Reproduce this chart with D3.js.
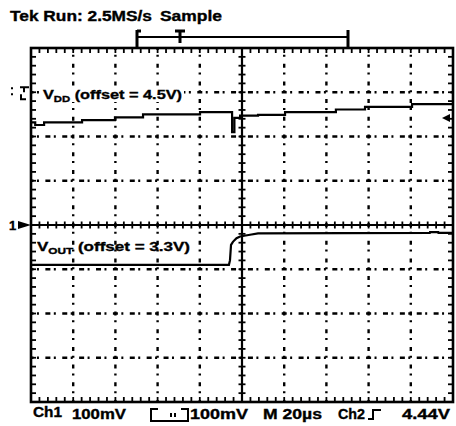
<!DOCTYPE html>
<html><head><meta charset="utf-8">
<script src="https://cdn.jsdelivr.net/npm/d3@7"></script>
<style>
html,body{margin:0;padding:0;background:#fff;}
svg{display:block;}
text{font-family:"Liberation Sans",Arial,sans-serif;font-weight:bold;fill:#000;stroke:#000;stroke-width:0.35;}
</style></head>
<body>
<svg id="c" width="456" height="426"></svg>
<script>
// ---- data ----
const timeRangeUs = [-100, 100];          // 10 div x 20 µs/div
const divRange = [-4, 4];                 // 8 vertical divisions
const xGridUs = [-80, -60, -40, -20, 20, 40, 60, 80];
const yGridDiv = [-3, -2, -1, 1, 2, 3];
const ch1PosDiv = 0, ch2PosDiv = 3;       // reference positions
const mvPerDiv = 100;
// Ch2: VDD (offset 4.5V), deviation in mV, stepped samples
const vddT  = [-100, -98, -93.8, -75.8, -60.2, -46.9, -19.9, -4.7, -3.6, -0.9, 7.6, 20.4, 44.5, 58.3, 80.6, 100];
const vddMv = [-68, -74, -68, -63, -57, -50, -45, -90, -58, -53, -51, -45, -39, -33, -27, -27];
// Ch1: VOUT (offset 3.3V), deviation in mV
const voutT  = [-100, -6.2, -5.7, -5.2, -4.3, -2.6, -0.9, 3.8, 7.6, 89, 89.1, 93, 93.1, 100];
const voutMv = [-90, -90, -80, -45, -38, -30, -26, -22, -19, -18, -16, -16, -18, -18];
const headerLeft = "Tek Run: 2.5MS/s", headerRight = "Sample";
const statusTexts = [["Ch1",33,417,29],["100mV",72,419,54],["100mV",190,419,58],["M 20\u00b5s",263,419,59],["Ch2",338,419,27],["4.44V",402,419,48]];

// ---- scales ----
const X0 = 31, X1 = 453, Y0 = 48, Y1 = 402;
const x = d3.scaleLinear().domain(timeRangeUs).range([X0, X1]);
const yd = d3.scaleLinear().domain(divRange).range([Y1, Y0]);
const svg = d3.select("#c");
const minorX = d3.range(-100, 100.01, 4);
const minorY = d3.range(-4, 4.001, 0.2);

// grid
const g = svg.append("g");
g.selectAll("line.vg").data(xGridUs).join("line")
  .attr("x1", d => x(d)).attr("x2", d => x(d)).attr("y1", Y0).attr("y2", Y1)
  .attr("stroke", "#000").attr("stroke-width", 2.4)
  .attr("stroke-dasharray", "4,4.85,2,6.85").attr("stroke-dashoffset", 2);
g.selectAll("line.hg").data(yGridDiv).join("line")
  .attr("x1", X0).attr("x2", X1).attr("y1", d => yd(d)).attr("y2", d => yd(d))
  .attr("stroke", "#000").attr("stroke-width", 2.4)
  .attr("stroke-dasharray", "5,3.44,2,6.44").attr("stroke-dashoffset", 2.5);

// centre axes with cross ticks
g.append("line").attr("x1", X0).attr("x2", X1).attr("y1", yd(0)).attr("y2", yd(0)).attr("stroke", "#000").attr("stroke-width", 2.2);
g.append("line").attr("x1", x(0)).attr("x2", x(0)).attr("y1", Y0).attr("y2", Y1).attr("stroke", "#000").attr("stroke-width", 2.2);
g.selectAll("line.ct").data(minorX).join("line")
  .attr("x1", d => x(d)).attr("x2", d => x(d)).attr("y1", yd(0) - 3.5).attr("y2", yd(0) + 3.5)
  .attr("stroke", "#000").attr("stroke-width", 1.8);
g.selectAll("line.cty").data(minorY).join("line")
  .attr("y1", d => yd(d)).attr("y2", d => yd(d)).attr("x1", x(0) - 3.5).attr("x2", x(0) + 3.5)
  .attr("stroke", "#000").attr("stroke-width", 1.8);

// frame ticks
g.selectAll("line.tt").data(minorX).join("line")
  .attr("x1", d => x(d)).attr("x2", d => x(d)).attr("y1", Y0).attr("y2", Y0 + 5)
  .attr("stroke", "#000").attr("stroke-width", 1.8);
g.selectAll("line.bt").data(minorX).join("line")
  .attr("x1", d => x(d)).attr("x2", d => x(d)).attr("y1", Y1).attr("y2", Y1 - 5)
  .attr("stroke", "#000").attr("stroke-width", 1.8);
g.selectAll("line.lt").data(minorY).join("line")
  .attr("y1", d => yd(d)).attr("y2", d => yd(d)).attr("x1", X0).attr("x2", X0 + 5)
  .attr("stroke", "#000").attr("stroke-width", 1.8);
g.selectAll("line.rt").data(minorY).join("line")
  .attr("y1", d => yd(d)).attr("y2", d => yd(d)).attr("x1", X1).attr("x2", X1 - 5)
  .attr("stroke", "#000").attr("stroke-width", 1.8);
g.append("rect").attr("x", X0).attr("y", Y0).attr("width", X1 - X0).attr("height", Y1 - Y0)
  .attr("fill", "none").attr("stroke", "#000").attr("stroke-width", 2.6);

// traces
const vddData = vddT.map((t, i) => [t, vddMv[i]]);
const voutData = voutT.map((t, i) => [t, voutMv[i]]);
const lineCh2 = d3.line().x(d => x(d[0])).y(d => yd(ch2PosDiv + d[1] / mvPerDiv)).curve(d3.curveStepAfter);
const lineCh1 = d3.line().x(d => x(d[0])).y(d => yd(ch1PosDiv + d[1] / mvPerDiv));
svg.append("path").attr("d", lineCh2(vddData)).attr("fill", "none").attr("stroke", "#000").attr("stroke-width", 2.2);
svg.append("path").attr("d", lineCh1(voutData)).attr("fill", "none").attr("stroke", "#000").attr("stroke-width", 2.2);

// channel labels
const lab1 = svg.append("g");
lab1.append("rect").attr("x", 41).attr("y", 86).attr("width", 143).attr("height", 16).attr("fill", "#fff");
const t1 = lab1.append("text").attr("x", 43).attr("y", 99).attr("font-size", 13).attr("textLength", 139).attr("lengthAdjust", "spacingAndGlyphs");
t1.append("tspan").text("V");
t1.append("tspan").attr("font-size", 9).attr("dy", 3).text("DD");
t1.append("tspan").attr("dy", -3).text(" (offset = 4.5V)");
const t2 = svg.append("text").attr("x", 37).attr("y", 251).attr("font-size", 13).attr("textLength", 153).attr("lengthAdjust", "spacingAndGlyphs");
t2.append("tspan").text("V");
t2.append("tspan").attr("font-size", 9).attr("dy", 3).text("OUT");
t2.append("tspan").attr("dy", -3).text(" (offset = 3.3V)");

// channel markers
svg.append("text").attr("x", 9).attr("y", 230).attr("font-size", 13).text("1");
svg.append("path").attr("d", `M18,221 L${X0},${yd(ch1PosDiv)} L18,229 Z`).attr("fill", "#000");
const m2y = yd(ch2PosDiv);
svg.append("rect").attr("x", 11).attr("y", m2y - 5).attr("width", 2).attr("height", 2).attr("fill", "#000");
svg.append("rect").attr("x", 11).attr("y", m2y + 1).attr("width", 2).attr("height", 2).attr("fill", "#000");
svg.append("path").attr("d", `M20,${m2y - 5} H29 M24,${m2y - 5} V${m2y} M21,${m2y + 2} V${m2y + 7} H26`).attr("fill", "none").attr("stroke", "#000").attr("stroke-width", 2);
// right-side level marker
svg.append("path").attr("d", "M442,118 L450,114 L450,122 Z").attr("fill", "#000");

// header
svg.append("text").attr("x", 10).attr("y", 21).attr("font-size", 14).attr("textLength", 142).attr("lengthAdjust", "spacingAndGlyphs").text(headerLeft);
svg.append("text").attr("x", 160).attr("y", 21).attr("font-size", 14).attr("textLength", 62).attr("lengthAdjust", "spacingAndGlyphs").text(headerRight);
// record bracket
svg.append("path").attr("d", "M137,37 H348").attr("stroke", "#000").attr("stroke-width", 2);
svg.append("path").attr("d", "M137,30 V47 M137,31 H141 M348,30 V47").attr("stroke", "#000").attr("stroke-width", 3).attr("fill", "none");
svg.append("path").attr("d", "M175,31 H185 M180,31 V43").attr("stroke", "#000").attr("stroke-width", 3).attr("fill", "none");

// status line
svg.selectAll("text.st").data(statusTexts).join("text")
  .attr("x", d => d[1]).attr("y", d => d[2]).attr("font-size", 14)
  .attr("textLength", d => d[3]).attr("lengthAdjust", "spacingAndGlyphs").text(d => d[0]);
svg.append("path").attr("d", "M158,409 H151 V421 H188 V409 H181 M171,413 V417 M175,413 V417")
  .attr("fill", "none").attr("stroke", "#000").attr("stroke-width", 2);
svg.append("path").attr("d", "M368,419 H373 V410 H381").attr("fill", "none").attr("stroke", "#000").attr("stroke-width", 2);
</script>
</body></html>
